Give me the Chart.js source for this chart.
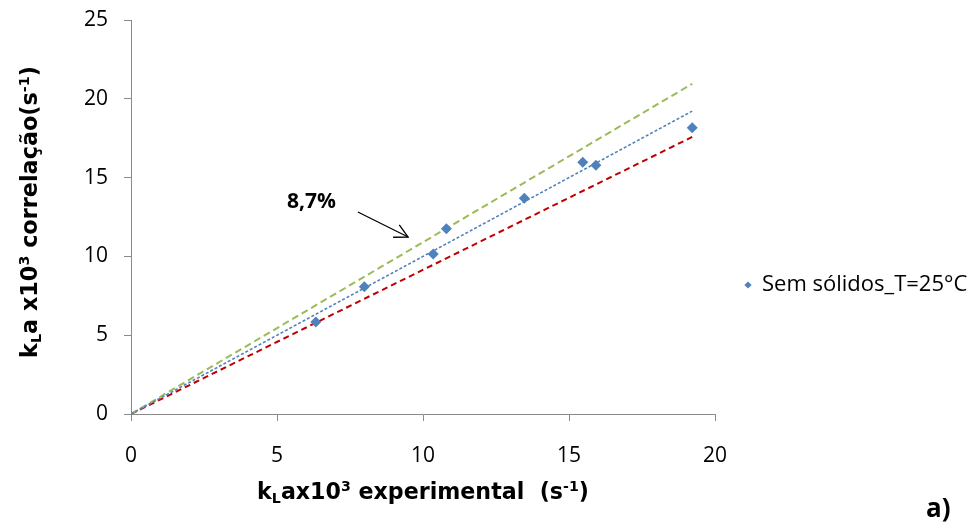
<!DOCTYPE html>
<html><head><meta charset="utf-8">
<script src="https://cdn.jsdelivr.net/npm/chart.js@4/dist/chart.umd.min.js"></script>
<style>html,body{margin:0;padding:0;background:#fff;}#wrap{width:973px;height:525px;}</style>
</head><body><div id="wrap"><canvas id="c" width="973" height="525"></canvas></div>
<script>
// ---- data ----
const seriesName = 'Sem sólidos_T=25°C';
const kLaExperimental = [6.33, 7.99, 10.35, 10.80, 13.47, 15.47, 15.92, 19.22];
const kLaCorrelacao   = [5.83, 8.07, 10.15, 11.76, 13.69, 15.97, 15.78, 18.16];
const trendX = [0, 19.22];
const trendY = [0, 19.22];
const upperX = [0, 19.22];
const upperY = [0, 20.95];
const lowerX = [0, 19.22];
const lowerY = [0, 17.58];
const xTicks = [0, 5, 10, 15, 20];
const yTicks = [0, 5, 10, 15, 20, 25];
const annotationLabel = '8,7%';
const panelLabel = 'a)';

const FONT = '"Open Sans", "DejaVu Sans", sans-serif';
const BFONT = '"DejaVu Sans", sans-serif';
const pts = (xs, ys) => xs.map((x, i) => ({x: x, y: ys[i]}));

// draws rich text (sub/superscripts), centred on x, scaled so its total width equals targetW
function drawRich(ctx, parts, x, y, targetW) {
  const fontFor = (k, size) => 'bold ' + (k ? size * 0.64 : size) + 'px ' + BFONT;
  const measure = size => {
    let t = 0;
    parts.forEach(p => { ctx.font = fontFor(p[1], size); t += ctx.measureText(p[0]).width; });
    return t;
  };
  const size = 20 * targetW / measure(20);
  const total = measure(size);
  let cx = x - total / 2;
  ctx.textAlign = 'left'; ctx.textBaseline = 'alphabetic';
  parts.forEach(p => {
    ctx.font = fontFor(p[1], size);
    const dy = p[1] === 'sub' ? size * 0.2 : (p[1] === 'sup' ? -size * 0.36 : 0);
    ctx.fillText(p[0], cx, y + dy);
    cx += ctx.measureText(p[0]).width;
  });
}

const overlay = {
  id: 'overlay',
  afterDraw(chart) {
    const ctx = chart.ctx, xs = chart.scales.x, ys = chart.scales.y;
    const ca = chart.chartArea;
    ctx.save();
    ctx.fillStyle = '#000';
    // x title
    drawRich(ctx, [['k',''],['L','sub'],['ax10',''],['3','sup'],[' experimental  (s',''],['-1','sup'],[')','']], (ca.left + ca.right) / 2, 499, 332);
    // y title
    ctx.save();
    ctx.translate(37, (ca.top + ca.bottom) / 2 - 5);
    ctx.rotate(-Math.PI / 2);
    drawRich(ctx, [['k',''],['L','sub'],['a x10',''],['3','sup'],[' correlação(s',''],['-1','sup'],[')','']], 0, 0, 292);
    ctx.restore();
    // legend
    const lx = 748, ly = 285, r = 3.6;
    ctx.fillStyle = '#4F81BD';
    ctx.beginPath();
    ctx.moveTo(lx - r, ly); ctx.lineTo(lx, ly - r); ctx.lineTo(lx + r, ly); ctx.lineTo(lx, ly + r); ctx.closePath(); ctx.fill();
    ctx.fillStyle = '#000';
    ctx.font = '22px ' + FONT;
    ctx.textAlign = 'left'; ctx.textBaseline = 'middle';
    ctx.fillText(seriesName, 762, ly);
    // annotation
    ctx.font = 'bold 21px ' + FONT;
    ctx.textBaseline = 'alphabetic';
    ctx.fillText(annotationLabel, xs.getPixelForValue(5.34), ys.getPixelForValue(13.07));
    const x0 = xs.getPixelForValue(7.77), y0 = ys.getPixelForValue(12.82);
    const x1 = xs.getPixelForValue(9.49), y1 = ys.getPixelForValue(11.23);
    ctx.strokeStyle = '#000'; ctx.lineWidth = 1.3;
    ctx.beginPath(); ctx.moveTo(x0, y0); ctx.lineTo(x1, y1); ctx.stroke();
    const ang = Math.atan2(y1 - y0, x1 - x0) + Math.PI, hl = 15, spread = 0.48;
    ctx.beginPath();
    ctx.moveTo(x1 + hl * Math.cos(ang - spread), y1 + hl * Math.sin(ang - spread));
    ctx.lineTo(x1, y1);
    ctx.lineTo(x1 + hl * Math.cos(ang + spread), y1 + hl * Math.sin(ang + spread));
    ctx.stroke();
    // panel label
    ctx.font = 'bold 26px ' + FONT;
    ctx.fillText(panelLabel, 926, 517);
    ctx.restore();
  }
};

const axisCommon = {
  type: 'linear',
  grid: {drawOnChartArea: false, drawTicks: true, tickLength: 7, color: '#8a8a8a', lineWidth: 1},
  border: {color: '#8a8a8a', width: 1},
};

new Chart(document.getElementById('c'), {
  type: 'scatter',
  data: {
    datasets: [
      {label: seriesName, data: pts(kLaExperimental, kLaCorrelacao), pointStyle: 'rectRot', pointRadius: 5.5,
       backgroundColor: '#4F81BD', borderColor: '#4F81BD', borderWidth: 0, showLine: false},
      {label: 'tendência', data: pts(trendX, trendY), showLine: true, pointRadius: 0, borderColor: '#4F81BD',
       borderWidth: 1.6, borderDash: [3, 2], fill: false},
      {label: '+8,7%', data: pts(upperX, upperY), showLine: true, pointRadius: 0, borderColor: '#9BBB59',
       borderWidth: 2, borderDash: [7, 4], fill: false},
      {label: '-8,7%', data: pts(lowerX, lowerY), showLine: true, pointRadius: 0, borderColor: '#C00000',
       borderWidth: 2, borderDash: [6, 4], fill: false}
    ]
  },
  options: {
    responsive: false, animation: false, devicePixelRatio: 1,
    layout: {padding: {left: 0, right: 258, top: 20, bottom: 0}},
    plugins: {legend: {display: false}, tooltip: {enabled: false}},
    scales: {
      x: Object.assign({}, axisCommon, {
        min: 0, max: 20,
        afterBuildTicks: s => { s.ticks = xTicks.map(v => ({value: v})); },
        ticks: {color: '#000', font: {family: FONT, size: 21}, padding: 22, maxRotation: 0, autoSkip: false},
        afterFit: s => { s.height = 111; s.paddingLeft = 0; s.paddingRight = 0; }
      }),
      y: Object.assign({}, axisCommon, {
        min: 0, max: 25,
        afterBuildTicks: s => { s.ticks = yTicks.map(v => ({value: v})); },
        ticks: {color: '#000', font: {family: FONT, size: 21}, padding: 16, autoSkip: false},
        afterFit: s => { s.width = 131; s.paddingTop = 0; s.paddingBottom = 0; }
      })
    }
  },
  plugins: [overlay]
});
</script></body></html>
